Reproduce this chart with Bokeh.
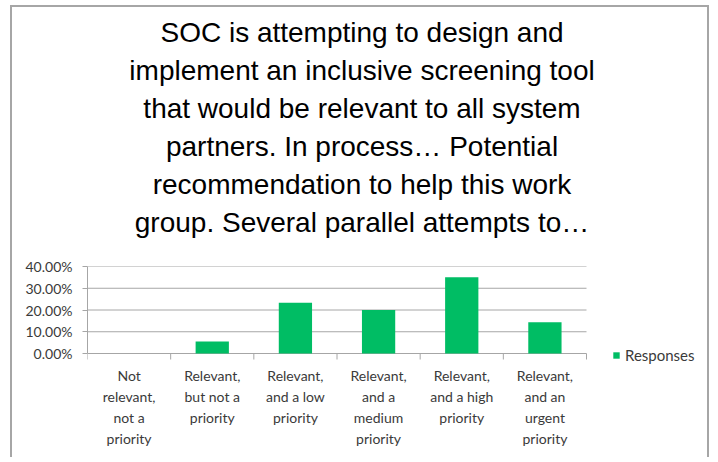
from bokeh.plotting import figure
from bokeh.models import (Range1d, FixedTicker, NumeralTickFormatter, Legend,
                          LegendItem, ColumnDataSource, Title)
from bokeh.embed import file_html
from bokeh.resources import INLINE

# ---- data ----
categories = ["Not relevant, not a priority",
              "Relevant, but not a priority",
              "Relevant, and a low priority",
              "Relevant, and a medium priority",
              "Relevant, and a high priority",
              "Relevant, and an urgent priority"]
tick_labels = ["Not\nrelevant,\nnot a\npriority",
               "Relevant,\nbut not a\npriority",
               "Relevant,\nand a low\npriority",
               "Relevant,\nand a\nmedium\npriority",
               "Relevant,\nand a high\npriority",
               "Relevant,\nand an\nurgent\npriority"]
responses = [0.0, 0.055, 0.233, 0.200, 0.351, 0.144]
y_ticks = [0.0, 0.10, 0.20, 0.30, 0.40]
series_name = "Responses"
title_lines = ["SOC is attempting to design and",
               "implement an inclusive screening tool",
               "that would be relevant to all system",
               "partners.  In process\u2026  Potential",
               "recommendation to help this work",
               "group.  Several parallel attempts to\u2026"]

n = len(categories)
centers = [i + 0.5 for i in range(n)]
bounds = [float(i) for i in range(n + 1)]
y_max = y_ticks[-1]

GREEN = "#00BD64"
GRID = "#a6a6a6"
TXT = "#3a3a3a"
FONT = "Lato"
BORDER = "2px solid #a6a6a6"
TITLE_PX = 28

# ---- layout (pixels) ----
W, H = 699, 452
MB_LEFT, MB_TOP = 75, 259
PLOT_W = 499          # width of the six-category plot area
PLOT_H = 87           # height of 0..40 %
PAD_BELOW = 11        # frame continues below the 0 line (room for legend)
TICK_PX = 6           # category separator tick length
MB_BOTTOM = H - MB_TOP - PLOT_H - PAD_BELOW
FRAME_W = W - MB_LEFT
x_end = n * FRAME_W / PLOT_W
y_start = -y_max * PAD_BELOW / PLOT_H
tick_len = y_max * TICK_PX / PLOT_H

# Liberation Sans (Arial-metric) advance widths, used only to centre each
# title line on the whole chart area.
_AW = dict(zip("abcdefghijklmnopqrstuvwxyz",
               [556, 556, 500, 556, 556, 278, 556, 556, 222, 222, 500, 222, 833,
                556, 556, 556, 556, 333, 500, 278, 556, 500, 722, 500, 500, 500]))
_AW.update({"C": 722, "I": 278, "O": 778, "P": 667, "S": 667,
            " ": 278, ".": 278, ",": 278, "\u2026": 1000})


def text_width(s, px):
    s = " ".join(s.split())
    return sum(_AW.get(ch, 556) for ch in s) * px / 1000.0


src = ColumnDataSource(dict(x=centers, top=responses, cat=categories))
grid_src = ColumnDataSource(dict(x0=[0] * len(y_ticks), x1=[n] * len(y_ticks),
                                 y=y_ticks))
sep_src = ColumnDataSource(dict(x=bounds, y0=[0] * len(bounds),
                                y1=[-tick_len] * len(bounds)))

p = figure(width=W, height=H, output_backend="svg", toolbar_location=None,
           x_range=Range1d(0, x_end), y_range=Range1d(y_start, y_max),
           min_border_left=MB_LEFT, min_border_right=0,
           min_border_top=MB_TOP, min_border_bottom=MB_BOTTOM)
p.outline_line_color = None
p.styles = {"margin-left": "10px", "margin-top": "5px",
            "border-top": BORDER, "border-left": BORDER, "border-right": BORDER}

# titles: spacer nearest the frame, then the lines from the bottom up
p.title.text = ""
p.add_layout(Title(text="\u00a0", text_font_size="14px", standoff=8), "above")
for line in reversed(title_lines):
    off = (W / 2.0 - MB_LEFT) - text_width(line, TITLE_PX) / 2.0
    p.add_layout(Title(text=line, align="left", offset=off,
                       text_font="Liberation Sans",
                       text_font_size=f"{TITLE_PX}px", text_font_style="normal",
                       text_color="#000000", standoff=4.6), "above")

# horizontal gridlines (and the 0 baseline) over the category area only
p.segment(x0="x0", x1="x1", y0="y", y1="y", source=grid_src,
          line_color=GRID, line_width=1)
# category separator ticks below the baseline
p.segment(x0="x", x1="x", y0="y0", y1="y1", source=sep_src,
          line_color=GRID, line_width=1)

r = p.vbar(x="x", top="top", bottom=0, width=0.4, source=src,
           fill_color=GREEN, line_color=None)

xa = p.xaxis[0]
xa.ticker = FixedTicker(ticks=centers)
xa.major_label_overrides = {c: t for c, t in zip(centers, tick_labels)}
xa.axis_line_color = None
xa.major_tick_line_color = None
xa.minor_tick_line_color = None
xa.major_tick_out = 0
xa.major_tick_in = 0
xa.minor_tick_in = 0
xa.minor_tick_out = 0
xa.major_label_text_font = FONT
xa.major_label_text_font_size = "14px"
xa.major_label_text_color = TXT
xa.major_label_text_line_height = 1.25
xa.major_label_standoff = 2
xa.major_label_orientation = "horizontal"

ya = p.yaxis[0]
ya.bounds = (0, y_max)
ya.ticker = FixedTicker(ticks=y_ticks)
ya.formatter = NumeralTickFormatter(format="0.00%")
ya.major_tick_out = 5
ya.major_tick_in = 0
ya.minor_tick_out = 0
ya.minor_tick_in = 0
ya.major_tick_line_color = GRID
ya.axis_line_color = GRID
ya.major_label_text_font = FONT
ya.major_label_text_font_size = "14px"
ya.major_label_text_color = TXT
ya.major_label_standoff = 10

p.xgrid.grid_line_color = None
p.ygrid.grid_line_color = None

legend = Legend(items=[LegendItem(label=series_name, renderers=[r])],
                location=(525, 0), orientation="vertical",
                padding=0, margin=0, spacing=0,
                glyph_width=8, glyph_height=8, label_standoff=5,
                label_text_font=FONT, label_text_font_size="15px",
                label_text_color=TXT, label_height=8,
                border_line_color=None, background_fill_alpha=0)
p.add_layout(legend, "center")

open("out.html", "w").write(file_html(p, INLINE))
